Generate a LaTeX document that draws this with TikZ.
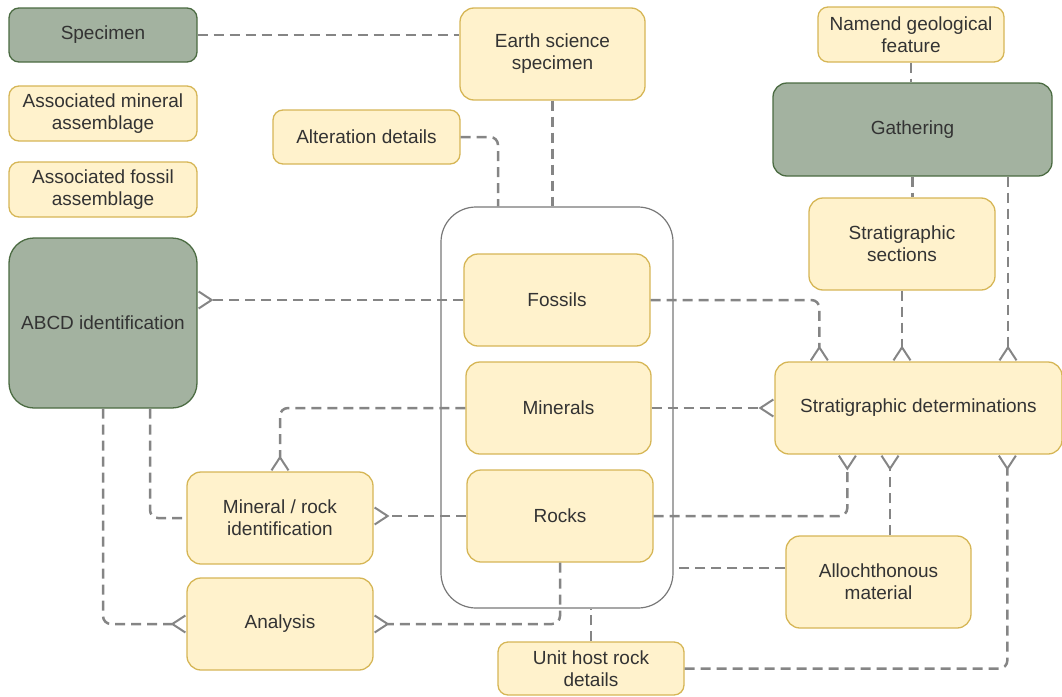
\documentclass[tikz,border=0pt]{standalone}
\usepackage{fontspec}
\setmainfont{Liberation Sans}
\usetikzlibrary{arrows.meta}
\definecolor{boxfill}{HTML}{FFF2CC}
\definecolor{boxline}{HTML}{D6B656}
\definecolor{hubfill}{HTML}{A3B2A0}
\definecolor{hubline}{HTML}{4B6B42}
\definecolor{linkgray}{HTML}{858585}
\definecolor{txt}{HTML}{333333}
\tikzset{
  ybox/.style={draw=boxline, fill=boxfill, line width=1.3pt, rounded corners=10pt,
    text=txt, align=center, inner sep=0pt, font=\fontsize{19}{22}\selectfont},
  gbox/.style={ybox, draw=hubline, fill=hubfill},
  group/.style={draw=linkgray!90!black, line width=1.2pt, rounded corners=35pt, inner sep=0pt},
  link/.style={draw=linkgray, line width=2.5pt, dash pattern=on 10pt off 6pt, rounded corners=8pt},
  many/.style={link, -{Straight Barb[reversed, length=13pt, width=17pt, line width=2pt]}}
}

\begin{document}
\begin{tikzpicture}[x=1pt,y=-1pt]
  \useasboundingbox (0,0) rectangle (1062,696);
  % left column
  \node[gbox, minimum width=188pt, minimum height=54pt] (spec) at (103,35) {Specimen};
  \node[ybox, minimum width=188pt, minimum height=55pt] (assmin) at (103,113.5) {Associated mineral\\assemblage};
  \node[ybox, minimum width=188pt, minimum height=55pt] (assfos) at (103,189.5) {Associated fossil\\assemblage};
  \node[gbox, rounded corners=25pt, minimum width=188pt, minimum height=170pt] (abcd) at (103,323) {ABCD identification};
  \node[ybox, rounded corners=14pt, minimum width=186pt, minimum height=92pt] (minid) at (280,518) {Mineral / rock\\identification};
  \node[ybox, rounded corners=14pt, minimum width=186pt, minimum height=92pt] (analysis) at (280,624) {Analysis};
  % middle
  \node[ybox, rounded corners=14pt, minimum width=185pt, minimum height=92pt] (esspec) at (552.5,54) {Earth science\\specimen};
  \node[ybox, minimum width=187pt, minimum height=54pt] (alter) at (366.5,137) {Alteration details};
  \node[group, minimum width=232pt, minimum height=401pt] (group) at (557,407.5) {};
  \node[ybox, rounded corners=14pt, minimum width=186pt, minimum height=92pt] (fossils) at (557,300) {Fossils};
  \node[ybox, rounded corners=14pt, minimum width=185pt, minimum height=92pt] (minerals) at (558.5,408) {Minerals};
  \node[ybox, rounded corners=14pt, minimum width=186pt, minimum height=92pt] (rocks) at (560,516) {Rocks};
  \node[ybox, minimum width=186pt, minimum height=53pt] (unithost) at (591,668.5) {Unit host rock\\details};
  % right column
  \node[ybox, minimum width=186pt, minimum height=55pt] (namend) at (911,34.5) {Namend geological\\feature};
  \node[gbox, rounded corners=14pt, minimum width=279pt, minimum height=93pt] (gathering) at (912.5,129.5) {Gathering};
  \node[ybox, rounded corners=14pt, minimum width=186pt, minimum height=92pt] (stratsec) at (902,244) {Stratigraphic\\sections};
  \node[ybox, rounded corners=14pt, minimum width=287pt, minimum height=92pt] (stratdet) at (918.5,408) {Stratigraphic determinations};
  \node[ybox, rounded corners=14pt, minimum width=185pt, minimum height=92pt] (alloch) at (878.5,582) {Allochthonous\\material};

  % plain links
  \draw[link] (spec.east) -- (spec.east -| esspec.west);
  \draw[link] (esspec.south) -- (esspec.south |- group.north);
  \draw[link] (alter.east) -| ([xshift=-59pt]group.north);
  \draw[link] (namend.south) -- (namend.south |- gathering.north);
  \draw[link] (gathering.south) -- (gathering.south |- stratsec.north);
  \draw[link] ([yshift=14pt]alloch.west) -- ([yshift=14pt]alloch.west -| group.east);
  \draw[link] (unithost.north) -- (unithost.north |- group.south);
  \draw[link] ([xshift=47pt]abcd.south) |- (minid.west);
  % links with crow's feet
  \draw[many] (fossils.west) -- (fossils.west -| abcd.east);
  \draw[many] (fossils.east) -| ([xshift=45pt]stratdet.north west);
  \draw[many] (stratsec.south) -- (stratsec.south |- stratdet.north);
  \draw[many] ([xshift=95.5pt]gathering.south) -- ([xshift=95.5pt]gathering.south |- stratdet.north);
  \draw[many] (minerals.east) -- (stratdet.west);
  \draw[many] (minerals.west) -| (minid.north);
  \draw[many] (rocks.west) -- (rocks.west -| minid.east);
  \draw[many] (rocks.east) -| ([xshift=73pt]stratdet.south west);
  \draw[many] ([xshift=11.5pt]alloch.north) -- ([xshift=11.5pt]alloch.north |- stratdet.south);
  \draw[many] (unithost.east) -| ([xshift=233pt]stratdet.south west);
  \draw[many] (abcd.south) |- (analysis.west);
  \draw[many] (rocks.south) |- (analysis.east);
\end{tikzpicture}
\end{document}
